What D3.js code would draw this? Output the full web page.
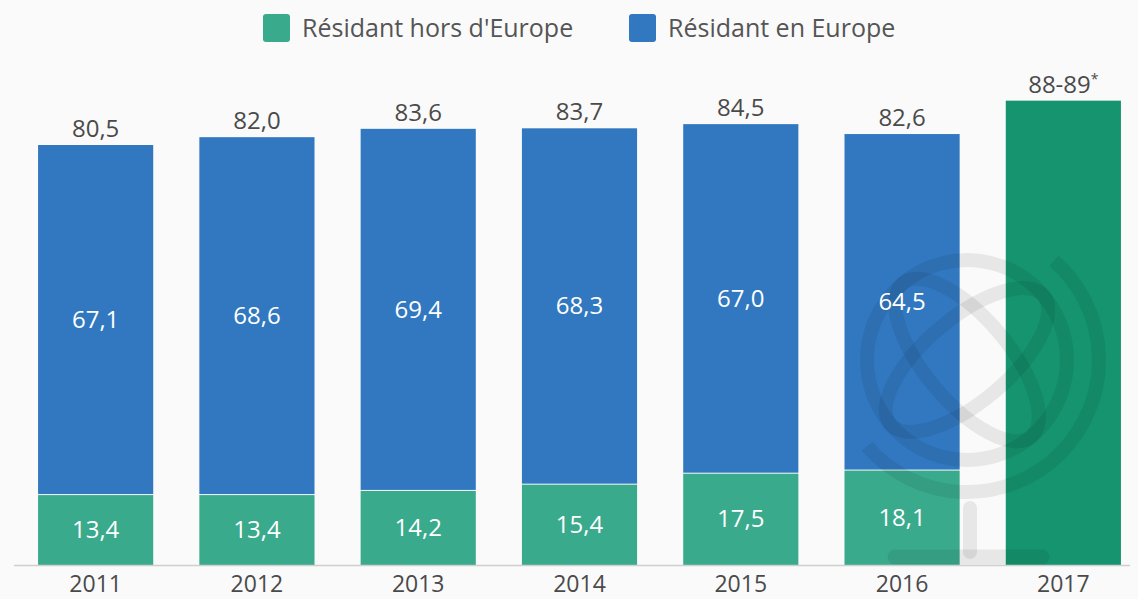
<!DOCTYPE html>
<html lang="fr">
<head>
    <meta charset="utf-8">
    <title>Résidents</title>
    <script src="https://d3js.org/d3.v7.min.js"></script>
    <style>
        body { margin: 0; background: #fafafa; }
        svg { display: block; font-family: "Open Sans", sans-serif; }
    </style>
</head>
<body>
<div id="chart"></div>
<script>
    // Data
    const years = ["2011", "2012", "2013", "2014", "2015", "2016", "2017"];
    const horsEurope = [13.4, 13.4, 14.2, 15.4, 17.5, 18.1, null];
    const enEurope = [67.1, 68.6, 69.4, 68.3, 67.0, 64.5, null];
    const estimate2017 = 89;          // bar height for the 88-89 estimate
    const estimateLabel = "88-89";
    const seriesNames = ["Résidant hors d'Europe", "Résidant en Europe"];

    const colors = {hors: "#3aaa8c", en: "#3178c0", estimate: "#15946f"};

    const W = 1138, H = 599;
    const baseY = 565;

    const fr = d3.formatLocale({decimal: ",", thousands: " ", grouping: [3], currency: ["", "€"]});
    const fmt = fr.format(".1f");

    const svg = d3.select("#chart")
        .append("svg")
        .attr("width", W)
        .attr("height", H);

    const x = d3.scaleBand()
        .domain(years)
        .range([15, 1144])
        .paddingInner(0.286)
        .paddingOuter(0.143);

    const y = d3.scaleLinear()
        .domain([0, 80.5])
        .range([baseY, 145]);

    const rows = years.map((yr, i) => ({
        year: yr,
        hors: horsEurope[i],
        en: enEurope[i],
        total: horsEurope[i] == null ? null : horsEurope[i] + enEurope[i]
    }));
    const stacked = rows.filter(d => d.total != null);
    const est = rows.filter(d => d.total == null);

    // bottom segment
    svg.append("g").selectAll("rect")
        .data(stacked)
        .join("rect")
        .attr("x", d => x(d.year))
        .attr("y", d => y(d.hors))
        .attr("width", x.bandwidth())
        .attr("height", d => baseY - y(d.hors))
        .attr("fill", colors.hors);

    // top segment (1px white gap)
    svg.append("g").selectAll("rect")
        .data(stacked)
        .join("rect")
        .attr("x", d => x(d.year))
        .attr("y", d => y(d.total))
        .attr("width", x.bandwidth())
        .attr("height", d => y(d.hors) - y(d.total) - 1)
        .attr("fill", colors.en);

    // 2017 estimate bar
    svg.append("g").selectAll("rect")
        .data(est)
        .join("rect")
        .attr("x", d => x(d.year))
        .attr("y", y(estimate2017))
        .attr("width", x.bandwidth())
        .attr("height", baseY - y(estimate2017))
        .attr("fill", colors.estimate);

    // watermark (faint globe on a stand)
    const wm = svg.append("g")
        .attr("transform", "translate(967,360)")
        .attr("fill", "none")
        .attr("stroke", "rgba(0,0,0,0.075)")
        .attr("stroke-width", 14)
        .attr("stroke-linecap", "round");
    const globe = wm.append("g");
    globe.append("circle").attr("r", 100);
    globe.append("ellipse").attr("rx", 42).attr("ry", 100).attr("transform", "rotate(-40)");
    globe.append("ellipse").attr("rx", 100).attr("ry", 42).attr("transform", "rotate(-40)");
    wm.append("path")
        .attr("d", d3.arc()({innerRadius: 132, outerRadius: 132, startAngle: 0.72, endAngle: 4.0}));
    wm.append("line").attr("x1", 3).attr("y1", 148).attr("x2", 3).attr("y2", 192);
    wm.append("line").attr("x1", -72).attr("y1", 197).attr("x2", 75).attr("y2", 197)
        .attr("stroke-width", 15);

    // baseline
    svg.append("line")
        .attr("x1", 14).attr("x2", 1130)
        .attr("y1", baseY + 0.5).attr("y2", baseY + 0.5)
        .attr("stroke", "#cfcfcf")
        .attr("stroke-width", 1.5);

    // inner labels
    svg.append("g").selectAll("text")
        .data(stacked)
        .join("text")
        .attr("x", d => x(d.year) + x.bandwidth() / 2)
        .attr("y", d => (y(d.total) + y(d.hors)) / 2 + 8)
        .attr("text-anchor", "middle")
        .attr("fill", "#fff")
        .attr("font-size", 24)
        .text(d => fmt(d.en));

    svg.append("g").selectAll("text")
        .data(stacked)
        .join("text")
        .attr("x", d => x(d.year) + x.bandwidth() / 2)
        .attr("y", d => (y(d.hors) + baseY) / 2 + 8)
        .attr("text-anchor", "middle")
        .attr("fill", "#fff")
        .attr("font-size", 24)
        .text(d => fmt(d.hors));

    // totals
    svg.append("g").selectAll("text")
        .data(stacked)
        .join("text")
        .attr("x", d => x(d.year) + x.bandwidth() / 2)
        .attr("y", d => y(d.total) - 8)
        .attr("text-anchor", "middle")
        .attr("fill", "#4a4a4a")
        .attr("font-size", 24)
        .text(d => fmt(d.total));

    const estText = svg.append("g").selectAll("text")
        .data(est)
        .join("text")
        .attr("x", d => x(d.year) + x.bandwidth() / 2)
        .attr("y", y(estimate2017) - 8)
        .attr("text-anchor", "middle")
        .attr("fill", "#4a4a4a")
        .attr("font-size", 24);
    estText.append("tspan").text(estimateLabel);
    estText.append("tspan").attr("dy", -9).attr("font-size", 14).text("*");

    // x axis labels
    svg.append("g").selectAll("text")
        .data(years)
        .join("text")
        .attr("x", d => x(d) + x.bandwidth() / 2)
        .attr("y", 592)
        .attr("text-anchor", "middle")
        .attr("fill", "#4a4a4a")
        .attr("font-size", 23)
        .text(d => d);

    // legend
    const legend = svg.append("g");
    const legendX = [263, 629];
    const legendColors = [colors.hors, colors.en];
    seriesNames.forEach((name, i) => {
        legend.append("rect")
            .attr("x", legendX[i]).attr("y", 14)
            .attr("width", 27).attr("height", 28)
            .attr("rx", 3)
            .attr("fill", legendColors[i]);
        legend.append("text")
            .attr("x", legendX[i] + 39).attr("y", 37)
            .attr("fill", "#555")
            .attr("font-size", 25)
            .text(name);
    });
</script>
</body>
</html>
